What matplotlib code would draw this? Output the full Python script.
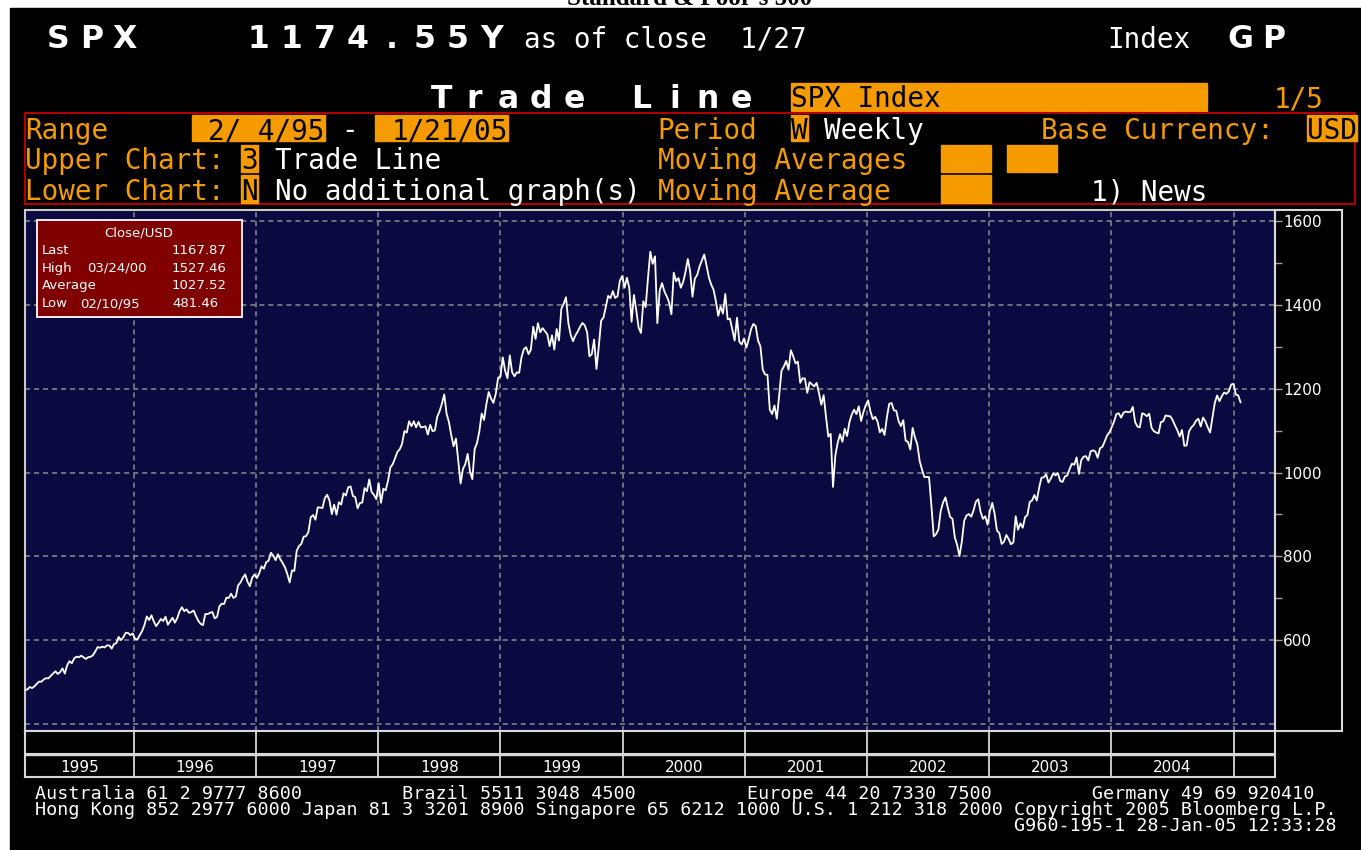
import numpy as np
import pandas as pd
from matplotlib import pyplot as plt
from matplotlib.patches import Rectangle
import matplotlib.dates as mdates

# Weekly SPX closes (Fridays), 2/10/95 - 1/21/05
spx_1995 = [481.46, 481.97, 488.11, 485.42, 489.57, 495.52, 500.97, 500.71, 506.13, 509.23,
            508.49, 514.71, 520.12, 525.55, 519.19, 523.65, 532.51, 520.12, 539.83, 549.71,
            544.75, 556.37, 560.34, 558.94, 562.93, 558.94, 555.11, 559.21, 560.10, 563.84,
            572.68, 583.35, 581.73, 584.41, 582.63, 587.46, 587.46, 579.70, 590.57, 592.72,
            607.64, 599.97, 606.98, 617.70, 616.92, 611.95, 615.93]
spx_1996 = [602.69, 601.81, 611.83, 621.62, 635.84, 656.37, 647.98, 659.08, 644.37, 633.50,
            641.43, 650.62, 645.50, 655.86, 636.71, 645.07, 653.46, 641.63, 652.09, 668.91,
            678.51, 669.12, 673.31, 665.16, 666.84, 670.63, 657.44, 646.19, 638.73, 635.90,
            662.49, 662.10, 665.21, 667.03, 651.99, 655.68, 680.54, 687.03, 686.19, 701.46,
            700.66, 710.82, 700.92, 703.77, 730.82, 737.62, 748.73, 757.02, 739.60, 728.64,
            748.87, 756.79]
spx_1997 = [748.03, 759.50, 776.17, 770.52, 786.16, 789.56, 808.48, 801.77, 790.82, 804.97,
            793.17, 784.10, 773.88, 757.90, 737.65, 766.34, 765.37, 812.97, 824.78, 829.75,
            847.03, 848.28, 858.01, 893.27, 898.70, 887.30, 916.92, 916.68, 915.30, 938.79,
            947.14, 933.54, 900.81, 923.54, 899.47, 929.05, 923.91, 950.51, 945.22, 965.03,
            966.98, 944.16, 941.64, 914.62, 927.51, 928.35, 963.09, 955.40, 983.79, 953.39,
            946.78, 936.46]
spx_1998 = [975.04, 927.69, 961.51, 957.59, 980.28, 1012.46, 1020.09, 1034.21, 1049.34, 1055.69,
            1068.61, 1099.16, 1095.44, 1122.70, 1110.67, 1122.72, 1107.90, 1121.00, 1108.14, 1108.73,
            1110.47, 1090.82, 1113.86, 1098.84, 1100.65, 1133.20, 1146.42, 1164.33, 1186.75, 1140.80,
            1120.67, 1089.45, 1062.75, 1081.24, 1027.14, 973.89, 1009.06, 1020.09, 1044.75, 1002.60,
            984.39, 1056.42, 1070.67, 1098.67, 1141.01, 1125.72, 1163.55, 1192.33, 1176.74, 1166.46,
            1188.03, 1226.27]
spx_1999 = [1229.23, 1275.09, 1243.26, 1225.19, 1279.64, 1239.40, 1230.13, 1239.22, 1238.33, 1275.47,
            1294.59, 1299.29, 1282.80, 1293.72, 1348.35, 1319.00, 1356.85, 1335.18, 1345.00, 1337.80,
            1330.29, 1301.84, 1327.75, 1293.64, 1342.84, 1315.31, 1391.22, 1403.28, 1418.78, 1356.94,
            1328.72, 1313.71, 1327.68, 1336.61, 1348.27, 1357.24, 1351.66, 1335.42, 1277.36, 1282.81,
            1317.64, 1247.41, 1301.65, 1362.93, 1370.23, 1396.06, 1422.00, 1416.62, 1433.30, 1417.04,
            1421.03, 1458.34, 1469.25]
spx_2000 = [1441.47, 1465.15, 1441.36, 1360.16, 1424.37, 1387.12, 1346.09, 1333.36, 1409.17, 1395.07,
            1464.47, 1527.46, 1498.58, 1516.35, 1356.56, 1434.54, 1452.43, 1432.63, 1420.96, 1406.95,
            1378.02, 1477.26, 1456.95, 1464.46, 1441.48, 1454.60, 1478.90, 1509.98, 1480.19, 1419.89,
            1462.93, 1471.84, 1491.72, 1506.45, 1520.77, 1494.50, 1465.81, 1448.72, 1436.51, 1408.99,
            1374.17, 1396.93, 1379.58, 1426.69, 1365.98, 1367.72, 1341.77, 1315.23, 1369.89, 1312.15,
            1305.95, 1320.28]
spx_2001 = [1298.35, 1318.32, 1342.54, 1354.95, 1349.47, 1314.76, 1301.53, 1245.86, 1234.18, 1233.42,
            1150.53, 1139.83, 1160.33, 1128.43, 1183.50, 1242.98, 1253.05, 1266.61, 1245.67, 1291.96,
            1277.89, 1260.67, 1264.96, 1214.36, 1225.35, 1224.42, 1190.59, 1215.68, 1210.85, 1205.82,
            1214.35, 1190.16, 1161.97, 1184.93, 1133.58, 1085.78, 1092.54, 965.80, 1040.94, 1071.38,
            1091.65, 1073.48, 1104.61, 1087.20, 1120.31, 1138.65, 1150.34, 1139.45, 1158.31, 1123.09,
            1144.89, 1161.02]
spx_2002 = [1172.51, 1145.60, 1127.58, 1133.28, 1122.20, 1096.22, 1104.18, 1089.84, 1131.78, 1164.31,
            1166.16, 1148.70, 1147.39, 1122.73, 1111.01, 1125.17, 1076.32, 1073.43, 1054.99, 1106.59,
            1083.82, 1067.14, 1027.53, 1007.27, 989.14, 989.82, 989.03, 921.39, 847.75, 852.84,
            864.24, 908.64, 928.77, 940.86, 916.07, 893.92, 889.81, 845.39, 827.37, 800.58,
            835.32, 884.39, 897.65, 900.96, 894.74, 909.83, 930.55, 936.31, 906.55, 889.48,
            895.76, 875.40]
spx_2003 = [908.59, 927.57, 901.78, 861.40, 855.70, 829.69, 834.89, 851.17, 841.15, 828.89,
            833.27, 895.79, 863.50, 878.85, 868.30, 893.58, 898.81, 930.08, 933.41, 946.67,
            933.22, 963.59, 987.76, 988.61, 995.69, 976.22, 985.70, 998.14, 993.32, 998.68,
            980.15, 977.59, 990.67, 993.06, 1008.01, 1021.39, 1018.63, 1036.30, 996.85, 1029.85,
            1038.06, 1039.32, 1028.91, 1050.71, 1053.21, 1050.35, 1035.28, 1058.20, 1061.50, 1074.14,
            1088.66, 1095.89]
spx_2004 = [1108.48, 1121.86, 1139.83, 1141.55, 1131.13, 1142.76, 1145.81, 1144.11, 1144.94, 1156.86,
            1120.57, 1109.78, 1108.06, 1141.81, 1139.32, 1134.61, 1140.60, 1107.30, 1098.70, 1095.70,
            1093.56, 1120.68, 1122.50, 1136.47, 1135.02, 1134.43, 1125.38, 1112.81, 1101.39, 1086.20,
            1101.72, 1063.97, 1064.80, 1098.35, 1107.77, 1113.63, 1123.92, 1128.55, 1110.11, 1131.50,
            1122.14, 1108.20, 1095.74, 1130.20, 1166.17, 1184.17, 1170.34, 1182.65, 1191.17, 1188.00,
            1194.20, 1210.13, 1211.92]
spx_2005 = [1186.19, 1184.52, 1167.87]

close = np.concatenate([spx_1995, spx_1996, spx_1997, spx_1998, spx_1999, spx_2000,
                        spx_2001, spx_2002, spx_2003, spx_2004, spx_2005])
dates = pd.date_range("1995-02-10", "2005-01-21", freq="W-FRI")
print(len(dates), len(close))

years = list(range(1995, 2005))
y_ticks = [600, 800, 1000, 1200, 1400, 1600]
y_grid = [400, 600, 800, 1000, 1200, 1400, 1600]

info_labels = ["Last", "High", "Average", "Low"]
info_dates = ["", "03/24/00", "", "02/10/95"]
info_values = ["1167.87", "1527.46", "1027.52", "481.46"]

ORANGE = '#f59b00'
NAVY = '#0a0a40'
GRID = '#8c8c8c'
EDGE = '#c8c8c8'

W, H = 1361, 850


# helpers to place things in screen pixels
def fx(x):
    return x / W


def fy(y):
    return 1 - y / H


fig = plt.figure(figsize=(W / 100, H / 100), dpi=100)
fig.patch.set_facecolor('white')
fig.add_artist(Rectangle((fx(10), 0), 1 - fx(10), fy(8), transform=fig.transFigure,
                         color='black', zorder=-1))

# page title, mostly cut off by the screen
fig.text(fx(690), fy(5), "Standard & Poor's 500", ha='center', va='baseline',
         family='Liberation Serif', weight='bold', fontsize=18, color='black')

# the terminal uses a fixed character grid
X0, PITCH = 25, 16.65


def mono(col, base, s, color='white'):
    fig.text(fx(X0 + col * PITCH), fy(base), s, color=color, ha='left', va='baseline',
             family='DejaVu Sans Mono', fontsize=19.9)


def wide(col, base, s, color='white'):
    # double-width characters
    for i, ch in enumerate(s):
        fig.text(fx(X0 + (col + 2 * i + 1) * PITCH), fy(base), ch, color=color,
                 ha='center', va='baseline', family='DejaVu Sans', weight='bold', fontsize=22.7)


def obox(c0, c1, top, bottom):
    fig.add_artist(Rectangle((fx(X0 + c0 * PITCH), fy(bottom)), (c1 - c0) * PITCH / W,
                             (bottom - top) / H, transform=fig.transFigure, color=ORANGE, zorder=1))


# header
wide(1, 48, "SPX")
wide(13, 48, "1174.55Y")
mono(30, 48, "as of close  1/27")
mono(65, 48, "Index")
wide(72, 48, "GP")

wide(24, 108, "Trade Line")
obox(46, 71, 83, 111)
mono(46, 107, "SPX Index", 'black')
mono(75, 107, "1/5", ORANGE)

fig.add_artist(Rectangle((fx(25), fy(204)), 1330 / W, 91 / H, transform=fig.transFigure,
                         fill=False, edgecolor='#b00000', lw=1.5, zorder=1))

# Range row
mono(0, 139, "Range", ORANGE)
obox(10, 18, 115, 141)
mono(11, 139, "2/ 4/95", 'black')
mono(19, 139, "-")
obox(21, 29, 115, 141)
mono(22, 139, "1/21/05", 'black')
mono(38, 139, "Period", ORANGE)
obox(46, 47, 115, 141)
mono(46, 139, "W", 'black')
mono(48, 139, "Weekly")
mono(61, 139, "Base Currency:", ORANGE)
obox(77, 80, 115, 141)
mono(77, 139, "USD", 'black')

# Upper chart row
mono(0, 169, "Upper Chart:", ORANGE)
obox(13, 14, 145, 172)
mono(13, 169, "3", 'black')
mono(15, 169, "Trade Line")
mono(38, 169, "Moving Averages", ORANGE)
obox(55, 58, 145, 172)
obox(59, 62, 145, 172)

# Lower chart row
mono(0, 200, "Lower Chart:", ORANGE)
obox(13, 14, 175, 203)
mono(13, 200, "N", 'black')
mono(15, 200, "No additional graph(s)")
mono(38, 200, "Moving Average", ORANGE)
obox(55, 58, 175, 203)
mono(64, 200, "1) News")

# main chart
x = mdates.date2num(dates.to_pydatetime())
x_left = x[0]
x_right = x_left + 3736

ax = fig.add_axes([fx(25), fy(731), 1250 / W, 521 / H])
ax.set_facecolor(NAVY)
for v in y_grid:
    ax.axhline(v, color=GRID, lw=1.1, dashes=(3.3, 2.6), zorder=1)
for yr in years[1:] + [2005]:
    ax.axvline(mdates.date2num(pd.Timestamp(yr, 1, 1)), color=GRID, lw=1.1, dashes=(3.3, 2.6), zorder=1)
ax.plot(x, close, color='white', lw=1.3, zorder=3)
ax.set_xlim(x_left, x_right)
ax.set_ylim(383, 1627)
ax.set_xticks([])
ax.yaxis.tick_right()
ax.set_yticks(y_ticks)
ax.set_yticks([700, 900, 1100, 1300, 1500], minor=True)
ax.tick_params(axis='y', which='both', colors='#a0a0a0', length=5, width=1, labelcolor='white',
               labelsize=11, pad=1)
for s in ax.spines.values():
    s.set_color(EDGE)
    s.set_linewidth(1.5)

# box around the price scale
fig.add_artist(Rectangle((fx(1275), fy(731)), 67 / W, 521 / H, transform=fig.transFigure,
                         fill=False, edgecolor='#d8d8d8', lw=1.5, zorder=1))

# year strip under the chart
yax = fig.add_axes([fx(25), fy(777), 1250 / W, 46 / H])
yax.set_facecolor('black')
yax.set_xlim(x_left, x_right)
yax.set_ylim(0, 1)
yax.set_xticks([])
yax.set_yticks([])
for s in yax.spines.values():
    s.set_color('#d8d8d8')
    s.set_linewidth(1.5)
yax.axhline(0.51, color='#d8d8d8', lw=1.5)
yax.axhline(0.47, color='#d8d8d8', lw=1.0)
bounds = [x_left] + [mdates.date2num(pd.Timestamp(yr, 1, 1)) for yr in years[1:] + [2005]]
for b in bounds[1:]:
    yax.axvline(b, color='#d8d8d8', lw=1.3)
for i, yr in enumerate(years):
    yax.text((bounds[i] + bounds[i + 1]) / 2, 0.2, str(yr), ha='center', va='center',
             color='white', fontsize=11)

# stats box
fig.add_artist(Rectangle((fx(37), fy(317)), 205 / W, 97 / H, transform=fig.transFigure,
                         facecolor='#800000', edgecolor='white', lw=1.3, zorder=2))
fig.text(fx(139), fy(237), "Close/USD", ha='center', va='baseline', color='white', fontsize=9.5)
for i in range(len(info_labels)):
    base = 254 + i * 17.7
    fig.text(fx(42), fy(base), info_labels[i], color='white', va='baseline', fontsize=9.5)
    if info_dates[i]:
        dx = 87 if i == 1 else 80
        fig.text(fx(dx), fy(base), info_dates[i], color='white', va='baseline', fontsize=9.5)
    fig.text(fx(172), fy(base), info_values[i], color='white', va='baseline', fontsize=9.5)

# footer, one text block so the lines sit close like on the terminal
line1 = ("Australia 61 2 9777 8600" + " " * 9 + "Brazil 5511 3048 4500" + " " * 10 +
         "Europe 44 20 7330 7500" + " " * 9 + "Germany 49 69 920410")
line2 = ("Hong Kong 852 2977 6000 Japan 81 3 3201 8900 Singapore 65 6212 1000 "
         "U.S. 1 212 318 2000 Copyright 2005 Bloomberg L.P.")
line3 = " " * 88 + "G960-195-1 28-Jan-05 12:33:28"
fig.text(fx(35), fy(785), line1 + "\n" + line2 + "\n" + line3, color='white', va='top',
         family='DejaVu Sans Mono', fontsize=13.2, linespacing=0.86)

plt.savefig("out.png", dpi=100, facecolor=fig.get_facecolor())
